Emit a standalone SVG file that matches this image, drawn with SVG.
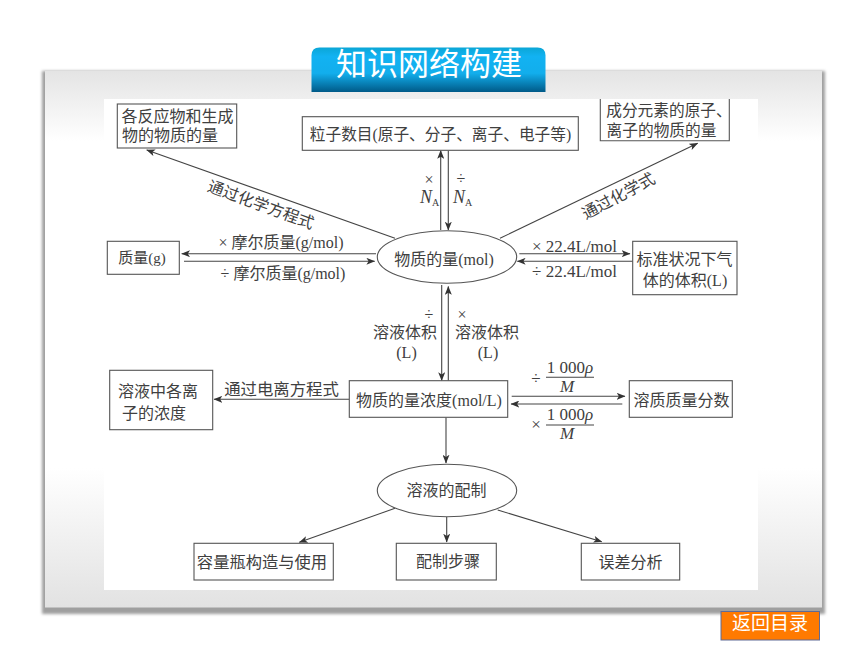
<svg xmlns="http://www.w3.org/2000/svg" width="860" height="645" viewBox="0 0 860 645">
<style>
text{font-family:"Liberation Serif","Noto Sans CJK SC",serif;font-size:16px;fill:#404040;text-anchor:middle}
.b{fill:#fff;stroke:#555;stroke-width:1.1}
.c line,.c path{fill:none;stroke:#444;stroke-width:1.1}
.i{font-style:italic}
.n{font-style:italic;font-size:18px}
.s{font-size:10px;font-style:normal}
.f{font-size:17px}
.t{font-family:"Noto Sans CJK SC","Liberation Sans",sans-serif;fill:#fff}
</style>
<defs>
<linearGradient id="pg" x1="0" y1="0" x2="0" y2="1">
<stop offset="0" stop-color="#e4e4e4"/><stop offset=".13" stop-color="#fff"/><stop offset=".74" stop-color="#fff"/><stop offset="1" stop-color="#e2e2e2"/>
</linearGradient>
<linearGradient id="tg" x1="0" y1="0" x2="0" y2="1">
<stop offset="0" stop-color="#0ba6d6"/><stop offset=".2" stop-color="#12b2f2"/><stop offset=".58" stop-color="#12aeec"/><stop offset="1" stop-color="#005a88"/>
</linearGradient>
<filter id="bl" x="-3%" y="-3%" width="106%" height="106%"><feGaussianBlur stdDeviation="1.500"/></filter>
<marker id="a" viewBox="0 0 10 8" refX="9.500" refY="4" markerWidth="9" markerHeight="7" markerUnits="userSpaceOnUse" orient="auto"><path d="M0 0L10 4L0 8L2.500 4Z" fill="#333"/></marker>
</defs>
<g id="panel">
<rect x="42" y="71" width="783" height="543" fill="#9f9f9f" filter="url(#bl)"/>
<rect x="45" y="71" width="777" height="536.500" fill="url(#pg)"/>
<rect x="104" y="99" width="654" height="491" fill="#fff"/>
</g>
<g id="title">
<path d="M311.500 92V55.500Q311.500 47.500 319.500 47.500H537.500Q545.500 47.500 545.500 55.500V92Z" fill="url(#tg)"/>
<text class="t" x="429" y="75" style="font-size:31px">知识网络构建</text>
</g>
<g class="c" id="connectors">
<line x1="395" y1="238.300" x2="146.700" y2="150" marker-end="url(#a)"/>
<line x1="440.700" y1="230" x2="440.700" y2="150.500" marker-end="url(#a)"/>
<line x1="448.300" y1="150.500" x2="448.300" y2="230" marker-end="url(#a)"/>
<line x1="500" y1="238.300" x2="697.700" y2="143.300" marker-end="url(#a)"/>
<line x1="376" y1="253.700" x2="181.700" y2="253.700" marker-end="url(#a)"/>
<line x1="184" y1="261.300" x2="374.700" y2="261.300" marker-end="url(#a)"/>
<line x1="519.300" y1="253.700" x2="630" y2="253.700" marker-end="url(#a)"/>
<line x1="633.300" y1="261.300" x2="517.300" y2="261.300" marker-end="url(#a)"/>
<line x1="441.700" y1="285" x2="441.700" y2="380.500" marker-end="url(#a)"/>
<line x1="448.300" y1="380.700" x2="448.300" y2="286.500" marker-end="url(#a)"/>
<line x1="349.300" y1="399.300" x2="214" y2="399.300" marker-end="url(#a)"/>
<line x1="511.700" y1="396.300" x2="625" y2="396.300" marker-end="url(#a)"/>
<line x1="622.300" y1="404" x2="511" y2="404" marker-end="url(#a)"/>
<line x1="446" y1="417.300" x2="446" y2="463" marker-end="url(#a)"/>
<line x1="395" y1="508.300" x2="299.300" y2="542.300" marker-end="url(#a)"/>
<line x1="446.700" y1="516.700" x2="446.700" y2="542" marker-end="url(#a)"/>
<line x1="497.700" y1="510" x2="601.700" y2="541.700" marker-end="url(#a)"/>
<line x1="546" y1="377.300" x2="594" y2="377.300"/>
<line x1="546" y1="425" x2="594" y2="425"/>
</g>
<g id="n-reactant"><rect class="b" x="117.300" y="104" width="119.400" height="44"/>
<text x="177.500" y="121.500">各反应物和生成</text><text x="170" y="141">物的物质的量</text></g>
<g id="n-particles"><rect class="b" x="302.300" y="116.700" width="276" height="33.600"/>
<text x="440.500" y="140" style="font-size:15.700px">粒子数目(原子、分子、离子、电子等)</text></g>
<g id="n-element"><path class="b" d="M600.300 99V140.700H729.300V99"/>
<text x="669" y="116" style="font-size:15.700px">成分元素的原子、</text><text x="661.500" y="135.500" style="font-size:15.700px">离子的物质的量</text></g>
<g id="n-mass"><rect class="b" x="107.300" y="241.300" width="72" height="33"/>
<text x="142" y="263" style="font-size:15px">质量(g)</text></g>
<g id="n-mol"><ellipse class="b" cx="447" cy="257" rx="69.700" ry="26.300"/>
<text x="444" y="265">物质的量(mol)</text></g>
<g id="n-gas"><rect class="b" x="632.700" y="241.300" width="104.300" height="53.400"/>
<text x="684.500" y="265">标准状况下气</text><text x="685" y="286">体的体积(L)</text></g>
<g id="n-ion"><rect class="b" x="109.700" y="370.300" width="103" height="59.400"/>
<text x="158" y="397">溶液中各离</text><text x="154" y="419">子的浓度</text></g>
<g id="n-conc"><rect class="b" x="349.300" y="380.700" width="158.400" height="36.600"/>
<text x="429" y="405.500">物质的量浓度(mol/L)</text></g>
<g id="n-frac"><rect class="b" x="629.300" y="380.700" width="103" height="36.600"/>
<text x="681.500" y="406">溶质质量分数</text></g>
<g id="n-prep"><ellipse class="b" cx="447" cy="490.500" rx="69.700" ry="26.200"/>
<text x="446.500" y="496">溶液的配制</text></g>
<g id="n-flask"><rect class="b" x="194" y="543.300" width="139.300" height="36.700"/>
<text x="262" y="568" style="font-size:16.300px">容量瓶构造与使用</text></g>
<g id="n-steps"><rect class="b" x="396.300" y="543.300" width="100" height="36.700"/>
<text x="448" y="567">配制步骤</text></g>
<g id="n-error"><rect class="b" x="581.300" y="543.300" width="98.400" height="36.700"/>
<text x="630.500" y="568">误差分析</text></g>
<g id="labels">
<text transform="translate(259 210) rotate(20)">通过化学方程式</text>
<text transform="translate(621 201) rotate(-28)">通过化学式</text>
<text x="281" y="248">× 摩尔质量(g/mol)</text>
<text x="283" y="279">÷ 摩尔质量(g/mol)</text>
<text class="f" x="574.500" y="252">× 22.4L/mol</text>
<text class="f" x="574.500" y="277">÷ 22.4L/mol</text>
<text x="281.500" y="395" style="font-size:16.400px">通过电离方程式</text>
<text x="429" y="185">×</text>
<text class="n" x="429.500" y="203">N<tspan class="s" dy="3">A</tspan></text>
<text x="461" y="184">÷</text>
<text class="n" x="462.500" y="203">N<tspan class="s" dy="3">A</tspan></text>
<text x="429" y="320">÷</text>
<text x="405" y="338">溶液体积</text>
<text x="406.500" y="358">(L)</text>
<text x="462" y="320">×</text>
<text x="487" y="338">溶液体积</text>
<text x="488" y="358">(L)</text>
<text class="f" x="536" y="384">÷</text>
<text class="f" x="570" y="373">1 000<tspan class="i">ρ</tspan></text>
<text class="i f" x="567" y="392">M</text>
<text class="f" x="536" y="430">×</text>
<text class="f" x="570" y="420">1 000<tspan class="i">ρ</tspan></text>
<text class="i f" x="567" y="439">M</text>
</g>
<g id="back">
<rect x="721" y="611.500" width="98.500" height="28.500" fill="#ff7a00" stroke="#5f6a96"/>
<text class="t" x="770" y="630" style="font-size:19px">返回目录</text>
</g>
</svg>
